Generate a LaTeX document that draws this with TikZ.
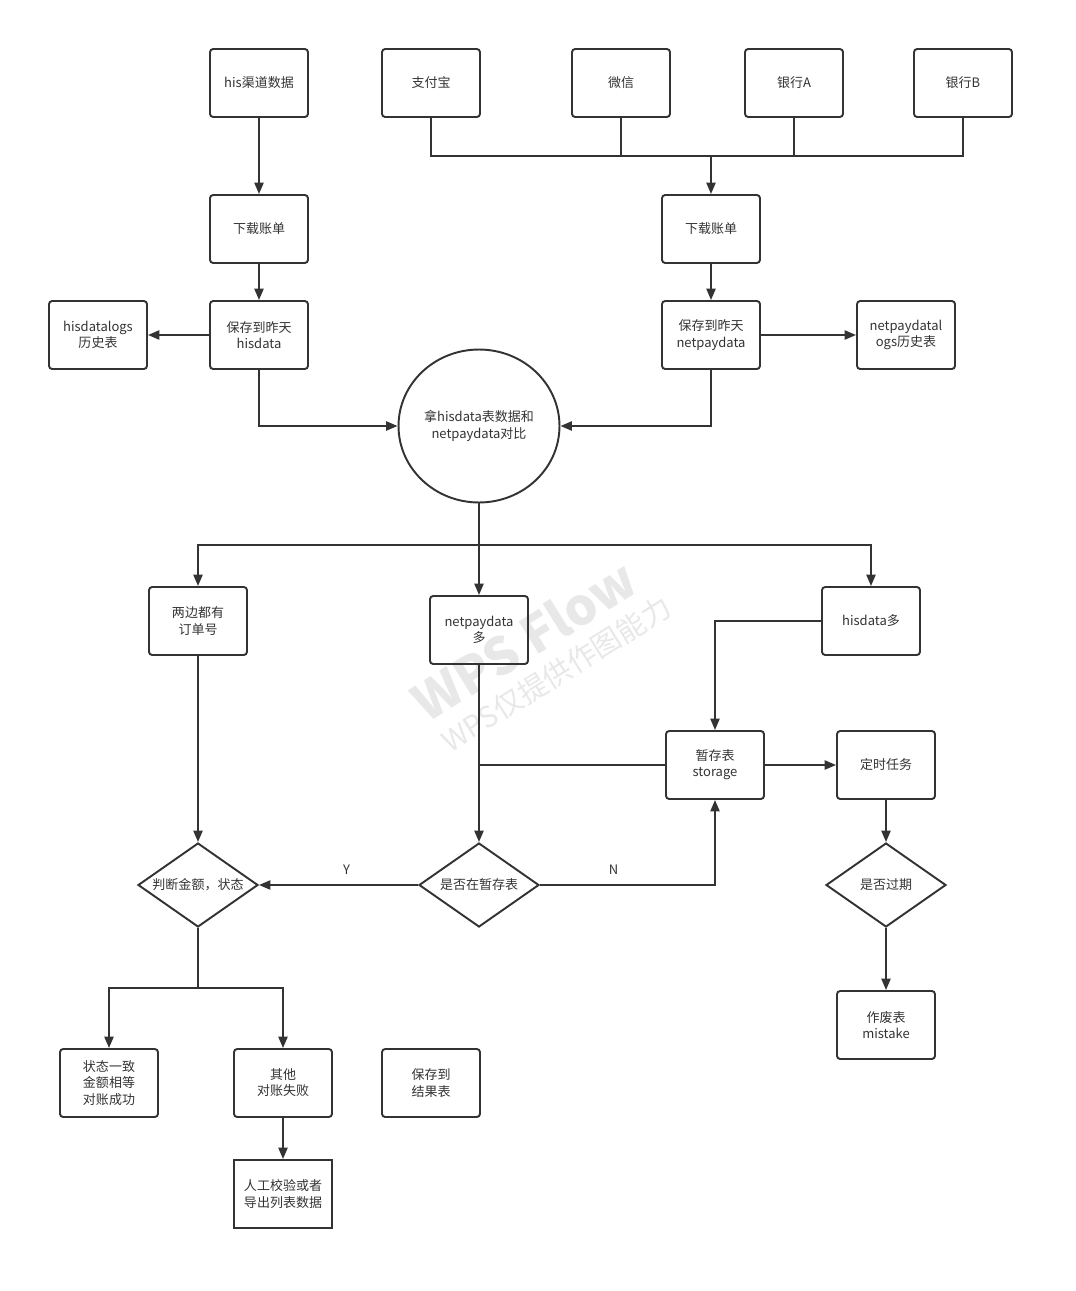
\documentclass[tikz,border=0pt]{standalone}
\usepackage{fontspec}
\setmainfont{Noto Sans CJK SC}
\usetikzlibrary{arrows.meta,shapes.geometric}
\definecolor{ln}{HTML}{333333}
\definecolor{wm}{HTML}{E8E8E8}
\begin{document}
\begin{tikzpicture}[x=0.02cm,y=-0.02cm,
  every node/.style={font=\fontsize{7.4}{9.2}\selectfont, text=ln, align=center},
  box/.style={draw=ln, line width=1.1pt, rounded corners=1.8pt, minimum width=1.96cm, minimum height=1.36cm, inner sep=1pt},
  sqbox/.style={box, rounded corners=0pt},
  dia/.style={draw=ln, line width=1.1pt, shape=diamond, aspect=1.43, inner sep=0pt, minimum width=2.4cm, minimum height=1.68cm},
  circ/.style={draw=ln, line width=1.1pt, shape=ellipse, minimum width=3.22cm, minimum height=3.06cm, inner sep=0pt},
  conn/.style={draw=ln, line width=1.1pt},
  arr/.style={conn, -{Triangle[length=6.5pt,width=5.2pt]}},
  lbl/.style={font=\fontsize{7.4}{9}\selectfont, text=ln}
]
\useasboundingbox (0,0) rectangle (1075,1291);
% watermark
\node[rotate=32, text=wm, font=\fontsize{29}{30}\bfseries\selectfont] (wm1) at (524,640) {WPS Flow};
\node[rotate=32, text=wm, font=\fontsize{16.5}{18}\selectfont] (wm2) at (556,674) {WPS仅提供作图能力};
% top row
\node[box] (his) at (259,83) {his渠道数据};
\node[box] (zfb) at (431,83) {支付宝};
\node[box] (wx) at (621,83) {微信};
\node[box] (yha) at (794,83) {银行A};
\node[box] (yhb) at (963,83) {银行B};
\node[box] (dl1) at (259,229) {下载账单};
\node[box] (dl2) at (711,229) {下载账单};
\node[box] (sv1) at (259,335) {保存到昨天\\hisdata};
\node[box] (hlog) at (98,335) {hisdatalogs\\历史表};
\node[box] (sv2) at (711,335) {保存到昨天\\netpaydata};
\node[box] (nlog) at (906,335) {netpaydatal\\ogs历史表};
\node[circ] (cmp) at (479,426) {拿hisdata表数据和\\netpaydata对比};
\node[box] (both) at (198,621) {两边都有\\订单号};
\node[box] (nmore) at (479,630) {netpaydata\\多};
\node[box] (hmore) at (871,621) {hisdata多};
\node[box] (stor) at (715,765) {暂存表\\storage};
\node[box] (timer) at (886,765) {定时任务};
\node[dia] (judge) at (198,885) {判断金额，状态};
\node[dia] (inst) at (479,885) {是否在暂存表};
\node[dia] (exp) at (886,885) {是否过期};
\node[box] (mist) at (886,1025) {作废表\\mistake};
\node[box] (ok) at (109,1083) {状态一致\\金额相等\\对账成功};
\node[box] (fail) at (283,1083) {其他\\对账失败};
\node[box] (res) at (431,1083) {保存到\\结果表};
\node[sqbox] (manual) at (283,1194) {人工校验或者\\导出列表数据};
% coordinates
\coordinate (bus) at (711,156);
\coordinate (split) at (479,545);
\coordinate (split2) at (198,988);
% connectors
\draw[arr] (his) -- (dl1);
\draw[conn] (zfb.south) |- (bus) -| (yhb.south);
\draw[conn] (wx.south) -- (wx.south |- bus);
\draw[conn] (yha.south) -- (yha.south |- bus);
\draw[arr] (bus) -- (dl2.north);
\draw[arr] (dl1) -- (sv1);
\draw[arr] (dl2) -- (sv2);
\draw[arr] (sv1) -- (hlog);
\draw[arr] (sv2) -- (nlog);
\draw[arr] (sv1.south) |- (cmp.west);
\draw[arr] (sv2.south) |- (cmp.east);
\draw[conn] (cmp.south) -- (split);
\draw[arr] (split) -| (both.north);
\draw[arr] (split) -| (hmore.north);
\draw[arr] (split) -- (nmore.north);
\draw[arr] (hmore.west) -| (stor.north);
\draw[arr] (nmore.south) -- (inst.north);
\draw[conn] (stor.west) -- (stor.west -| nmore.south);
\draw[arr] (stor) -- (timer);
\draw[arr] (timer) -- (exp);
\draw[arr] (exp) -- (mist);
\draw[arr] (inst.west) -- node[lbl, pos=0.45, above=2pt] {Y} (judge.east);
\draw[arr] (inst.east) -| node[lbl, pos=0.21, above=2pt] {N} (stor.south);
\draw[arr] (both) -- (judge.north);
\draw[conn] (judge.south) -- (split2);
\draw[arr] (split2) -| (ok.north);
\draw[arr] (split2) -| (fail.north);
\draw[arr] (fail) -- (manual);
\end{tikzpicture}
\end{document}
